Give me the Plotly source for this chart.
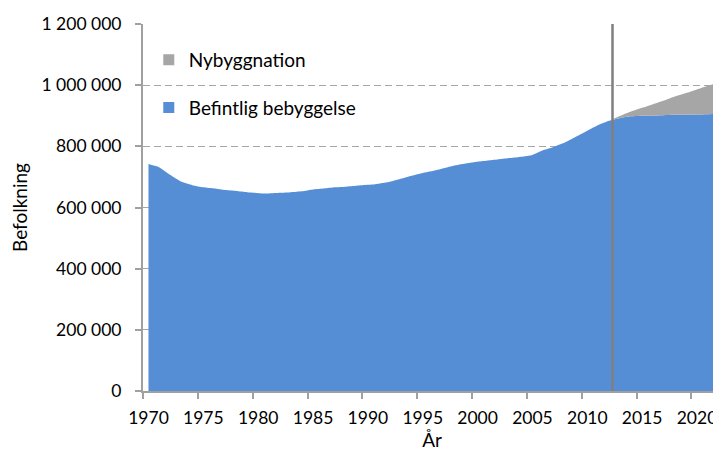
import plotly.graph_objects as go

# Befolkning per år
years = list(range(1970, 2023))
befintlig = [
    742000, 731000, 706000, 684000, 673000, 666000, 662000, 657000, 654000, 650000,
    647000, 646000, 648000, 650000, 653000, 659000, 662000, 666000, 668000, 671000,
    674000, 678000, 684000, 694000, 704000, 713000, 720000, 729000, 738000, 745000,
    750000, 754000, 758000, 762000, 766000, 772000, 788000, 799000, 813000, 832000,
    851000, 870000, 884000, 893000, 898000, 900000, 901000, 902000, 903000, 903000,
    904000, 905000, 906000,
]
nyb_years = list(range(2012, 2023))
nybyggnation = [0, 7000, 16000, 26000, 37000, 48000, 60000, 71000, 82000, 93000, 103000]
prognos_start = 2012.3

x_ticks = list(range(1970, 2021, 5))

BLUE = "#558ed5"
GRAY = "#a6a6a6"
FONT = dict(family="Lato, 'Open Sans', sans-serif", size=19, color="#000000")
TICK_FONT = dict(FONT, size=17.5)

fig = go.Figure()
fig.add_trace(go.Scatter(
    x=years, y=befintlig, stackgroup="one", mode="lines", name="Befintlig bebyggelse",
    line=dict(width=0, shape="spline", smoothing=0.5), fillcolor=BLUE, showlegend=False))
fig.add_trace(go.Scatter(
    x=nyb_years, y=nybyggnation, stackgroup="one", mode="lines", name="Nybyggnation",
    line=dict(width=0, shape="spline", smoothing=0.5), fillcolor=GRAY, showlegend=False))

# legend entries as small squares, one legend each so they can sit apart
fig.add_trace(go.Scatter(x=[None], y=[None], mode="markers", name="Nybyggnation",
                         marker=dict(symbol="square", size=11, color=GRAY), legend="legend"))
fig.add_trace(go.Scatter(x=[None], y=[None], mode="markers", name="Befintlig bebyggelse",
                         marker=dict(symbol="square", size=11, color=BLUE), legend="legend2"))

fig.add_vline(x=prognos_start, line=dict(color="#7f7f7f", width=2.5))

legend_style = dict(xanchor="left", yanchor="middle", bgcolor="rgba(0,0,0,0)",
                    font=FONT, itemwidth=30)
# the page body keeps its default 8px margin, so the figure is 8px smaller
fig.update_layout(
    width=713, height=447,
    margin=dict(l=135, r=0, t=16, b=64),
    paper_bgcolor="white", plot_bgcolor="white",
    font=FONT, separators=", ",
    legend=dict(x=0.01, y=0.902, **legend_style),
    legend2=dict(x=0.01, y=0.772, **legend_style),
    xaxis=dict(
        range=[1969.5, 2022.19], tickmode="array", tickvals=x_ticks, ticks="",
        tickfont=TICK_FONT,
        showgrid=False, zeroline=False, showline=True, linecolor="#a0a0a0", linewidth=1.5,
        ticklabelstandoff=10, automargin=False,
        minor=dict(tickmode="linear", tick0=1969.5, dtick=5, ticks="outside",
                   ticklen=6, tickcolor="#a0a0a0", tickwidth=1.5, showgrid=False),
        title=dict(text="År", font=FONT, standoff=0),
    ),
    yaxis=dict(
        range=[0, 1200000], dtick=200000, tickformat=",d", tickfont=TICK_FONT,
        showgrid=True, gridcolor="#a6a6a6", gridwidth=1.3, griddash="7px,4px",
        zeroline=False, showline=True, linecolor="#a0a0a0", linewidth=2,
        ticks="outside", ticklen=6, tickcolor="#a0a0a0", tickwidth=1.5,
        ticklabelstandoff=10, automargin=False,
        title=dict(text="Befolkning", font=FONT, standoff=12),
    ),
)

fig.write_html("out.html")
